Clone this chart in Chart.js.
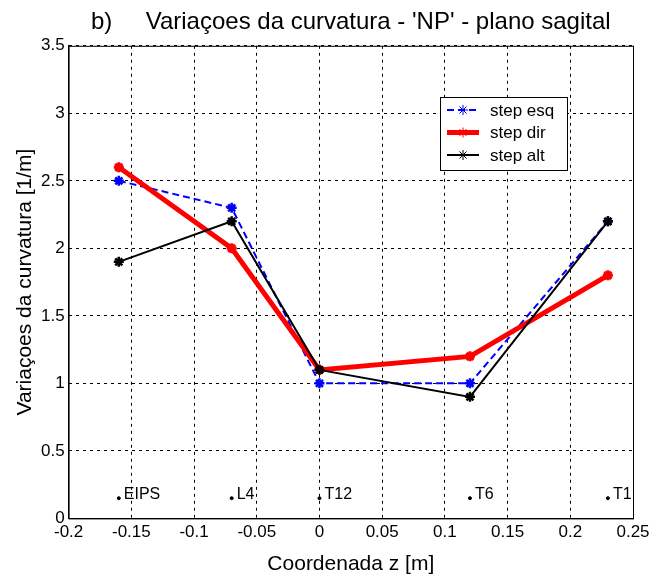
<!DOCTYPE html>
<html>
<head>
<meta charset="utf-8">
<script src="https://cdn.jsdelivr.net/npm/chart.js@4"></script>
<style>
  html, body { margin: 0; padding: 0; background: #fff; }
</style>
</head>
<body>
<canvas id="chart" width="663" height="578"></canvas>
<script>
// positions along the spine (m) and the vertebra names shown near the bottom
const zPositions = [-0.16, -0.07, 0, 0.12, 0.23];
const vertebraLabels = ["EIPS", "L4", "T12", "T6", "T1"];
const labelLevel = 0.15;

// curvature variations [1/m]
const stepEsq = [2.5, 2.3, 1.0, 1.0, 2.2];
const stepDir = [2.6, 2.0, 1.1, 1.2, 1.8];
const stepAlt = [1.9, 2.2, 1.1, 0.9, 2.2];

const xTicks = [-0.2, -0.15, -0.1, -0.05, 0, 0.05, 0.1, 0.15, 0.2, 0.25];
const yTicks = [0, 0.5, 1, 1.5, 2, 2.5, 3, 3.5];

const FONT = "'Liberation Sans', Arial, sans-serif";

function toPoints(ys) {
  return zPositions.map((x, i) => ({ x: x, y: ys[i] }));
}

// MATLAB style closed box around the axes
const boxPlugin = {
  id: "box",
  afterDraw(chart) {
    const { ctx, chartArea: a } = chart;
    ctx.save();
    ctx.strokeStyle = "#000";
    ctx.lineWidth = 1;
    ctx.strokeRect(a.left + 0.5, a.top + 0.5, a.right - a.left, a.bottom - a.top);
    ctx.restore();
  }
};

// vertebra names next to the small dots
const markerLabels = {
  id: "markerLabels",
  afterDatasetsDraw(chart) {
    const ctx = chart.ctx;
    const xs = chart.scales.x, ys = chart.scales.y;
    ctx.save();
    ctx.font = "16px " + FONT;
    ctx.fillStyle = "#000";
    ctx.textBaseline = "alphabetic";
    vertebraLabels.forEach((lab, i) => {
      const px = xs.getPixelForValue(zPositions[i]) + 5;
      const py = ys.getPixelForValue(labelLevel) + 1;
      ctx.fillText(lab, px, py);
    });
    ctx.restore();
  }
};

// legend box inside the plot, upper right
const boxLegend = {
  id: "boxLegend",
  afterDraw(chart) {
    const ctx = chart.ctx;
    const x0 = 440, y0 = 97, w = 127, h = 73;
    ctx.save();
    ctx.fillStyle = "#fff";
    ctx.fillRect(x0, y0, w, h);
    ctx.strokeStyle = "#000";
    ctx.lineWidth = 1;
    ctx.strokeRect(x0 + 0.5, y0 + 0.5, w, h);
    ctx.font = "17px " + FONT;
    ctx.textBaseline = "middle";
    const items = chart.data.datasets.filter(d => d.inLegend);
    items.forEach((d, i) => {
      const cy = y0 + 13 + i * 22.5;
      ctx.save();
      ctx.strokeStyle = d.borderColor;
      ctx.lineWidth = d.borderWidth;
      ctx.setLineDash(d.borderDash || []);
      ctx.beginPath();
      ctx.moveTo(x0 + 7, cy);
      ctx.lineTo(x0 + 39, cy);
      ctx.stroke();
      ctx.restore();
      ctx.save();
      ctx.strokeStyle = d.pointBorderColor;
      ctx.fillStyle = d.pointBorderColor;
      Chart.helpers.drawPoint(ctx, {
        pointStyle: d.pointStyle,
        radius: d.pointRadius,
        borderWidth: d.pointBorderWidth,
        rotation: 0
      }, x0 + 23, cy);
      ctx.restore();
      ctx.fillStyle = "#000";
      ctx.fillText(d.label, x0 + 50, cy + 1);
    });
    ctx.restore();
  }
};

new Chart(document.getElementById("chart"), {
  type: "scatter",
  data: {
    datasets: [
      {
        label: "step esq",
        inLegend: true,
        data: toPoints(stepEsq),
        showLine: true,
        borderColor: "#0000ff",
        backgroundColor: "#0000ff",
        borderWidth: 2,
        borderDash: [7, 4],
        pointStyle: "star",
        pointRadius: 5,
        pointBorderWidth: 2.5,
        pointBorderColor: "#0000ff",
        order: 3
      },
      {
        label: "step dir",
        inLegend: true,
        data: toPoints(stepDir),
        showLine: true,
        borderColor: "#ff0000",
        backgroundColor: "#ff0000",
        borderWidth: 5,
        pointStyle: "star",
        pointRadius: 5,
        pointBorderWidth: 3,
        pointBorderColor: "#ff0000",
        order: 2
      },
      {
        label: "step alt",
        inLegend: true,
        data: toPoints(stepAlt),
        showLine: true,
        borderColor: "#000000",
        backgroundColor: "#000000",
        borderWidth: 2,
        pointStyle: "star",
        pointRadius: 5,
        pointBorderWidth: 2.5,
        pointBorderColor: "#000000",
        order: 1
      },
      {
        label: "vertebras",
        data: zPositions.map(x => ({ x: x, y: labelLevel })),
        showLine: false,
        pointStyle: "circle",
        pointRadius: 1.5,
        backgroundColor: "#000",
        borderColor: "#000",
        order: 0
      }
    ]
  },
  options: {
    responsive: false,
    animation: false,
    layout: { padding: { left: 15, right: 30, top: 3, bottom: 1 } },
    plugins: {
      legend: { display: false },
      tooltip: { enabled: false },
      title: {
        display: true,
        fullSize: false,
        text: "b)     Variaçoes da curvatura - 'NP' - plano sagital",
        color: "#000",
        font: { family: FONT, size: 24, weight: "normal" },
        padding: { top: 5, bottom: 9 }
      }
    },
    scales: {
      x: {
        type: "linear",
        min: -0.2,
        max: 0.25,
        afterBuildTicks: s => { s.ticks = xTicks.map(v => ({ value: v })); },
        ticks: {
          color: "#000",
          font: { family: FONT, size: 17 },
          padding: 4,
          maxRotation: 0,
          callback: v => String(v)
        },
        grid: { color: "#000", lineWidth: 1, drawTicks: false },
        border: { display: true, color: "#000", width: 1, dash: [3, 4] },
        title: {
          display: true,
          text: "Coordenada z [m]",
          color: "#000",
          font: { family: FONT, size: 21 },
          padding: { top: 5, bottom: 0 }
        }
      },
      y: {
        type: "linear",
        min: 0,
        max: 3.5,
        afterBuildTicks: s => { s.ticks = yTicks.map(v => ({ value: v })); },
        ticks: {
          color: "#000",
          font: { family: FONT, size: 17 },
          padding: 4,
          callback: v => String(v)
        },
        grid: { color: "#000", lineWidth: 1, drawTicks: false },
        border: { display: true, color: "#000", width: 1, dash: [3, 4] },
        title: {
          display: true,
          text: "Variaçoes da curvatura [1/m]",
          color: "#000",
          font: { family: FONT, size: 21, lineHeight: 1 },
          padding: { top: 0, bottom: 1 }
        }
      }
    }
  },
  plugins: [markerLabels, boxPlugin, boxLegend]
});
</script>
</body>
</html>
